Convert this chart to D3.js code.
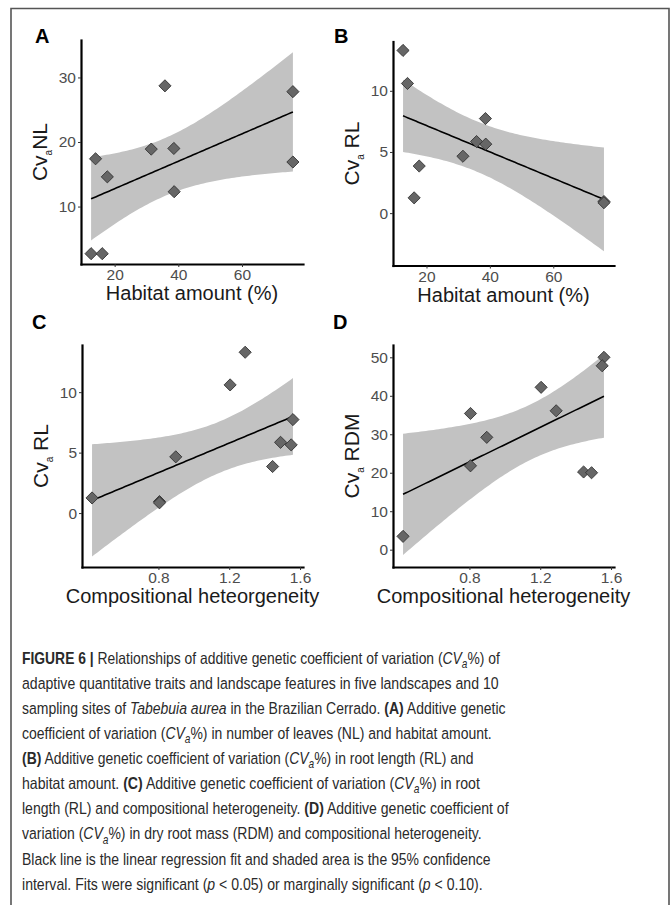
<!DOCTYPE html>
<html>
<head>
<meta charset="utf-8">
<script src="https://cdn.jsdelivr.net/npm/d3@7"></script>
<style>
  body { margin: 0; background: #fff; }
  svg { display: block; font-family: "Liberation Sans", Arial, sans-serif; }
</style>
</head>
<body>
<div id="figure"></div>
<script>
// site-level values (10 sampling sites)
var habitat = [12.6, 14.0, 16.1, 17.7, 31.5, 35.8, 38.6, 38.7, 76.0, 76.0];
var heterogeneity = [1.29, 1.205, 0.425, 1.445, 0.898, 1.49, 1.56, 1.55, 0.806, 0.806];
var cvaNL = [2.7, 17.4, 2.7, 14.6, 18.9, 28.7, 19.0, 12.3, 27.8, 16.9];
var cvaRL = [13.3, 10.6, 1.25, 3.85, 4.65, 5.85, 7.73, 5.64, 0.95, 0.85];
var cvaRDM = [36.1, 42.2, 3.46, 20.2, 29.2, 20.0, 50.0, 47.8, 35.4, 21.8];

// tick values
var habitatTicks = [20, 40, 60];
var heteroTicks = [0.8, 1.2, 1.6];
var nlTicks = [10, 20, 30];
var rlTicks = [0, 5, 10];
var rdmTicks = [0, 10, 20, 30, 40, 50];

// y limits as drawn in the original
var nlLimits = [1.1, 35.8];
var rlLimitsB = [-4.28, 14.03];
var rlLimitsC = [-4.46, 13.9];
var rdmLimits = [-4.5, 53.2];

// the drawn bands match a two-sided t interval with t(0.95, df = 8)
var tCrit = 1.860;

var svgWidth = 670;
var svgHeight = 905;

var svg = d3.select("#figure")
  .append("svg")
  .attr("width", svgWidth)
  .attr("height", svgHeight);

// frame around the figure (bottom edge is off the page)
svg.append("path")
  .attr("d", "M11,905 V8.5 H669 V905")
  .attr("fill", "none")
  .attr("stroke", "#555")
  .attr("stroke-width", 1.6);

var panels = [
  { letter: "A", lx: 35, ly: 43, xs: habitat, ys: cvaNL, xTicks: habitatTicks, yTicks: nlTicks,
    yLim: nlLimits, yName: "NL", ySpace: "", xTitle: "Habitat amount (%)",
    left: 81, right: 303, top: 40, bottom: 264 },
  { letter: "B", lx: 334, ly: 43, xs: habitat, ys: cvaRL, xTicks: habitatTicks, yTicks: rlTicks,
    yLim: rlLimitsB, yName: "RL", ySpace: " ", xTitle: "Habitat amount (%)",
    left: 393, right: 614, top: 41.5, bottom: 265.5 },
  { letter: "C", lx: 32, ly: 329, xs: heterogeneity, ys: cvaRL, xTicks: heteroTicks, yTicks: rlTicks,
    yLim: rlLimitsC, yName: "RL", ySpace: " ", xTitle: "Compositional heteorgeneity",
    left: 82, right: 303, top: 345, bottom: 567 },
  { letter: "D", lx: 333, ly: 329, xs: heterogeneity, ys: cvaRDM, xTicks: heteroTicks, yTicks: rdmTicks,
    yLim: rdmLimits, yName: "RDM", ySpace: " ", xTitle: "Compositional heterogeneity",
    left: 393, right: 614, top: 345, bottom: 567 }
];

// ordinary least squares fit with confidence band
function fitLm(xs, ys) {
  var n = xs.length;
  var mx = d3.mean(xs), my = d3.mean(ys);
  var sxx = d3.sum(xs, function(x) { return (x - mx) * (x - mx); });
  var sxy = d3.sum(xs, function(x, i) { return (x - mx) * (ys[i] - my); });
  var slope = sxy / sxx;
  var intercept = my - slope * mx;
  var sse = d3.sum(xs, function(x, i) {
    var r = ys[i] - (intercept + slope * x);
    return r * r;
  });
  var s = Math.sqrt(sse / (n - 2));
  var ext = d3.extent(xs);
  var pts = d3.range(80).map(function(k) {
    var x = ext[0] + (ext[1] - ext[0]) * k / 79;
    var fit = intercept + slope * x;
    var se = s * Math.sqrt(1 / n + (x - mx) * (x - mx) / sxx);
    return { x: x, fit: fit, lo: fit - tCrit * se, hi: fit + tCrit * se };
  });
  return pts;
}

panels.forEach(function(p, idx) {
  var g = svg.append("g");

  // ggplot-style 5% expansion of the x range
  var xe = d3.extent(p.xs);
  var pad = (xe[1] - xe[0]) * 0.05;
  var x = d3.scaleLinear().domain([xe[0] - pad, xe[1] + pad]).range([p.left, p.right]);
  var y = d3.scaleLinear().domain(p.yLim).range([p.bottom, p.top]);

  var clipId = "clip" + idx;
  svg.append("clipPath").attr("id", clipId)
    .append("rect")
    .attr("x", p.left).attr("y", p.top)
    .attr("width", p.right - p.left).attr("height", p.bottom - p.top);

  var band = fitLm(p.xs, p.ys);

  var area = d3.area()
    .x(function(d) { return x(d.x); })
    .y0(function(d) { return y(d.lo); })
    .y1(function(d) { return y(d.hi); });

  var line = d3.line()
    .x(function(d) { return x(d.x); })
    .y(function(d) { return y(d.fit); });

  var plot = g.append("g").attr("clip-path", "url(#" + clipId + ")");

  plot.append("path")
    .datum(band)
    .attr("d", area)
    .attr("fill", "#c2c2c2");

  plot.append("path")
    .datum(band)
    .attr("d", line)
    .attr("fill", "none")
    .attr("stroke", "#000")
    .attr("stroke-width", 1.6);

  // diamonds
  var diamond = d3.symbol().type(d3.symbolSquare).size(74);
  g.selectAll("path.pt")
    .data(p.xs.map(function(v, i) { return [v, p.ys[i]]; }))
    .enter()
    .append("path")
    .attr("class", "pt")
    .attr("d", diamond)
    .attr("transform", function(d) { return "translate(" + x(d[0]) + "," + y(d[1]) + ") rotate(45)"; })
    .attr("fill", "#666")
    .attr("stroke", "#2e2e2e")
    .attr("stroke-width", 0.8);

  // axes
  var bottomAxis = d3.axisBottom(x).tickValues(p.xTicks).tickSize(3).tickSizeOuter(0).tickPadding(2)
    .tickFormat(d3.format(p.xs === heterogeneity ? ".1f" : "d"));
  var leftAxis = d3.axisLeft(y).tickValues(p.yTicks).tickSize(3).tickSizeOuter(0).tickPadding(2);

  var xAxis = g.append("g")
    .attr("transform", "translate(0," + p.bottom + ")")
    .call(bottomAxis);
  var yAxis = g.append("g")
    .attr("transform", "translate(" + p.left + ",0)")
    .call(leftAxis);

  [xAxis, yAxis].forEach(function(ax) {
    ax.select(".domain").attr("stroke", "#000").attr("stroke-width", 2.2).attr("stroke-linecap", "square");
    ax.selectAll(".tick line").attr("stroke", "#333");
    ax.selectAll(".tick text")
      .attr("fill", "#4d4d4d")
      .style("font-size", "15.5px")
      .style("font-family", "'Liberation Sans', Arial, sans-serif");
  });

  // axis titles
  g.append("text")
    .attr("x", (p.left + p.right) / 2)
    .attr("y", p.bottom + 36)
    .attr("text-anchor", "middle")
    .attr("fill", "#1a1a1a")
    .style("font-size", "20px")
    .text(p.xTitle);

  var yt = g.append("text")
    .attr("transform", "translate(" + (p.left - 34) + "," + ((p.top + p.bottom) / 2) + ") rotate(-90)")
    .attr("text-anchor", "middle")
    .attr("fill", "#1a1a1a")
    .style("font-size", "21px");
  yt.append("tspan").text("Cv");
  yt.append("tspan").attr("dy", 5).style("font-size", "10px").text("a");
  yt.append("tspan").attr("dy", -5).text(p.ySpace + p.yName);

  // panel letter
  svg.append("text")
    .attr("x", p.lx)
    .attr("y", p.ly)
    .attr("fill", "#000")
    .style("font-size", "20px")
    .style("font-weight", "bold")
    .text(p.letter);
});

// caption: each line is a list of [text, style] runs
var captionLines = [
  [["FIGURE 6 | ", "b"], ["Relationships of additive genetic coefficient of variation (", ""], ["CV", "i"], ["a", "isub"], ["%) of", ""]],
  [["adaptive quantitative traits and landscape features in five landscapes and 10", ""]],
  [["sampling sites of ", ""], ["Tabebuia aurea", "i"], [" in the Brazilian Cerrado. ", ""], ["(A)", "b"], [" Additive genetic", ""]],
  [["coefficient of variation (", ""], ["CV", "i"], ["a", "isub"], ["%) in number of leaves (NL) and habitat amount.", ""]],
  [["(B)", "b"], [" Additive genetic coefficient of variation (", ""], ["CV", "i"], ["a", "isub"], ["%) in root length (RL) and", ""]],
  [["habitat amount. ", ""], ["(C)", "b"], [" Additive genetic coefficient of variation (", ""], ["CV", "i"], ["a", "isub"], ["%) in root", ""]],
  [["length (RL) and compositional heterogeneity. ", ""], ["(D)", "b"], [" Additive genetic coefficient of", ""]],
  [["variation (", ""], ["CV", "i"], ["a", "isub"], ["%) in dry root mass (RDM) and compositional heterogeneity.", ""]],
  [["Black line is the linear regression fit and shaded area is the 95% confidence", ""]],
  [["interval. Fits were significant (", ""], ["p", "i"], [" < 0.05) or marginally significant (", ""], ["p", "i"], [" < 0.10).", ""]]
];
var captionWidths = [478, 477, 484, 470, 452, 458, 487, 460, 469, 461];

captionLines.forEach(function(runs, i) {
  var t = svg.append("text")
    .attr("x", 0)
    .attr("y", 0)
    .attr("fill", "#2a2a2a")
    .style("font-size", "16.5px");
  var shifted = false;
  runs.forEach(function(r) {
    var ts = t.append("tspan").text(r[0]);
    if (r[1] === "b") ts.style("font-weight", "bold");
    if (r[1] === "i" || r[1] === "isub") ts.style("font-style", "italic");
    if (r[1] === "isub") { ts.attr("dy", 4).style("font-size", "12px"); shifted = true; }
    else if (shifted) { ts.attr("dy", -4); shifted = false; }
  });
  // squeeze the line horizontally to the width of the original (condensed face)
  var natural = t.node().getComputedTextLength();
  var sx = captionWidths[i] / natural;
  t.attr("transform", "translate(22," + (664 + i * 25.07) + ") scale(" + sx + ",1)");
});
</script>
</body>
</html>
